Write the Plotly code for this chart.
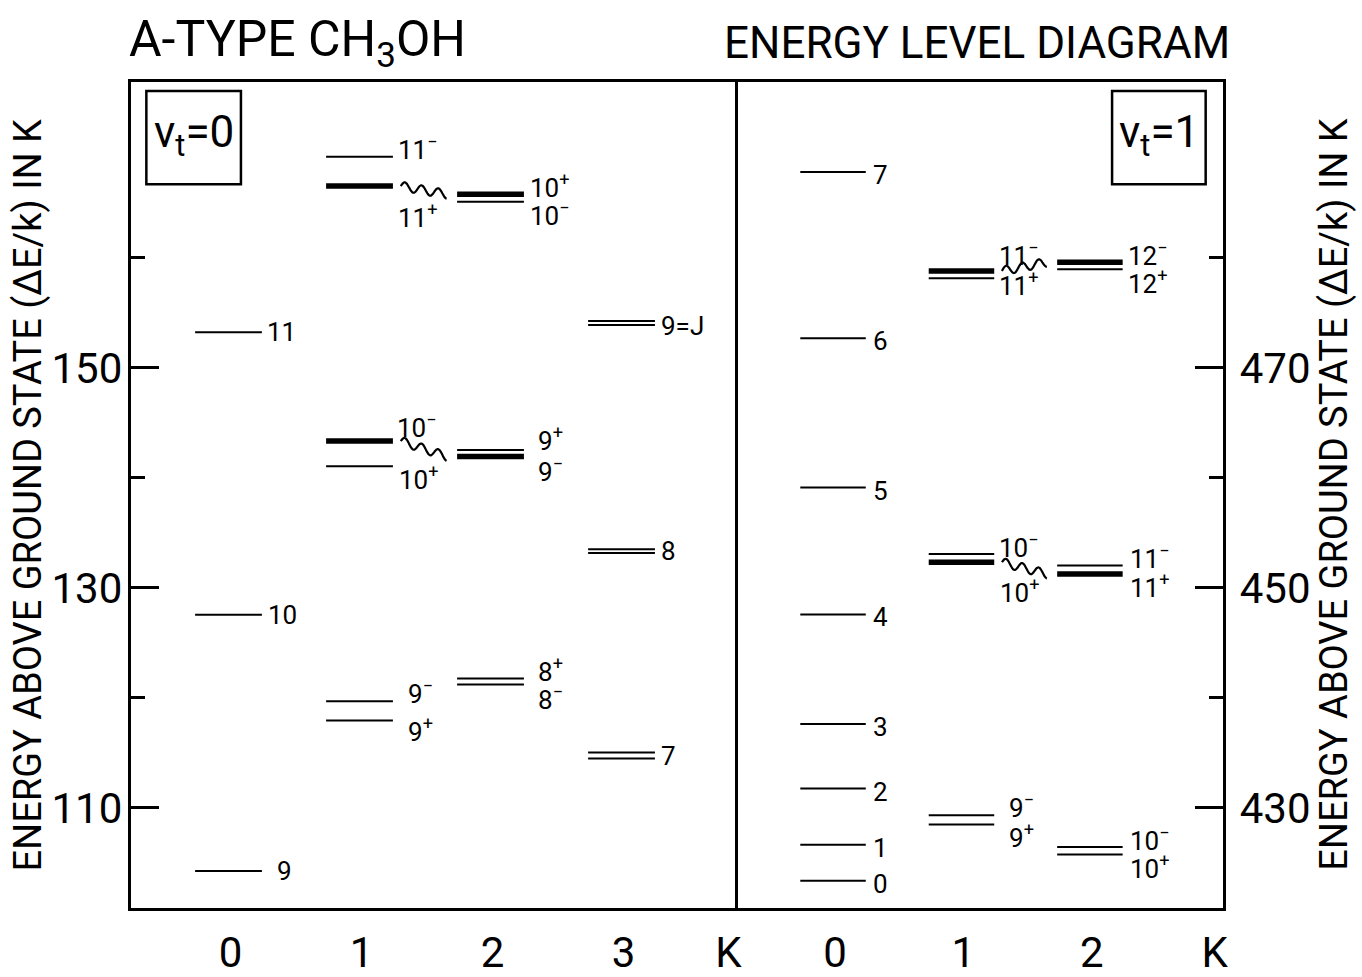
import numpy as np
import plotly.graph_objects as go

W, H = 1362, 977

# ---------------- data (energies above ground state, in K) ----------------
# v_t = 0 panel (left axis)
VT0_K0_LABEL = ["9", "10", "11"]
VT0_K0_E = [104.25, 127.55, 153.23]
VT0_K1_LABEL = ["9+", "9-", "10+", "10-", "11+", "11-"]
VT0_K1_E = [117.93, 119.68, 141.06, 143.35, 166.53, 169.20]
VT0_K2_LABEL = ["8-", "8+", "9-", "9+", "10-", "10+"]
VT0_K2_E = [121.22, 121.76, 141.95, 142.54, 165.10, 165.79]
VT0_K3_LABEL = ["7", "8", "9=J"]
VT0_K3_E_LOW = [114.49, 133.16, 153.91]
VT0_K3_E_HIGH = [115.02, 133.51, 154.26]

# v_t = 1 panel (right axis)
VT1_K0_LABEL = ["0", "1", "2", "3", "4", "5", "6", "7"]
VT1_K0_E = [423.36, 426.65, 431.75, 437.61, 447.58, 459.12, 472.70, 487.80]
VT1_K1_LABEL = ["9+", "9-", "10+", "10-", "11+", "11-"]
VT1_K1_E = [428.49, 429.32, 452.33, 453.07, 478.16, 478.81]
VT1_K2_LABEL = ["10+", "10-", "11+", "11-", "12+", "12-"]
VT1_K2_E = [425.76, 426.44, 451.26, 452.03, 478.96, 479.61]

# interacting level pairs (K=1 level, K=2 level) -> drawn heavy, joined by wavy line
VT0_PAIRS = [("11+", "10+"), ("10-", "9-")]
VT1_PAIRS = [("11-", "12-"), ("10+", "11+")]

LEFT_TICKS = [110, 130, 150]
LEFT_MINOR = [120, 140, 160]
RIGHT_TICKS = [430, 450, 470]
RIGHT_MINOR = [440, 460, 480]
VT0_XTICKS = [0, 1, 2, 3]
VT1_XTICKS = [0, 1, 2]

# ---------------- styling / layout ----------------
FONT = "Roboto, Liberation Sans, sans-serif"
PLOT_L, PLOT_M, PLOT_R = 132, 741, 1228
PLOT_T, PLOT_B = 84, 927
LINE_L, LINE_R = -0.27, 0.24
WAVE_X0, WAVE_X1 = 1.30, 1.65
PX_PER_UNIT = 11.228
THIN, THICK, FRAME = 2.0, 5.5, 2.5
LBL_SIZE = 26

SHIFT = {
    ("vt0", 0, "9"): (13, 0), ("vt0", 0, "10"): (4, 0), ("vt0", 0, "11"): (3, 0),
    ("vt0", 1, "11-"): (3, 9), ("vt0", 1, "11+"): (3, -30),
    ("vt0", 1, "10-"): (2, 15), ("vt0", 1, "10+"): (4, -12),
    ("vt0", 1, "9-"): (13, 9), ("vt0", 1, "9+"): (13, -9),
    ("vt0", 2, "10+"): (4, 8), ("vt0", 2, "10-"): (4, -12),
    ("vt0", 2, "9+"): (12, 11), ("vt0", 2, "9-"): (12, -14),
    ("vt0", 2, "8+"): (12, 8), ("vt0", 2, "8-"): (12, -14),
    ("vt0", 3, "7"): (4, 0), ("vt0", 3, "8"): (4, 0), ("vt0", 3, "9=J"): (4, -3),
    ("vt1", 1, "11-"): (3, 17), ("vt1", 1, "11+"): (3, -6),
    ("vt1", 1, "10-"): (3, 8), ("vt1", 1, "10+"): (4, -29),
    ("vt1", 1, "9-"): (13, 9), ("vt1", 1, "9+"): (13, -12),
    ("vt1", 2, "12-"): (3, 8), ("vt1", 2, "12+"): (3, -13),
    ("vt1", 2, "11-"): (5, 9), ("vt1", 2, "11+"): (5, -12),
    ("vt1", 2, "10-"): (5, 8), ("vt1", 2, "10+"): (5, -13),
}
VT1_K0_SHIFT = (5, -3)


def fmt(lbl):
    if lbl.endswith("+"):
        return lbl[:-1] + "<sup>+</sup>"
    if lbl.endswith("-"):
        return lbl[:-1] + "<sup>\u2212</sup>"
    return lbl


fig = go.Figure()
annotations = []


def add_panel(panel, xa, ya, groups, k3=None, pairs=()):
    thin_x, thin_y, thick_x, thick_y = [], [], [], []
    heavy = set()
    for a, b in pairs:
        heavy.add((1, a))
        heavy.add((2, b))
    for K, labels, energies in groups:
        for lbl, e in zip(labels, energies):
            tx, ty = (thick_x, thick_y) if (K, lbl) in heavy else (thin_x, thin_y)
            tx += [K + LINE_L, K + LINE_R, None]
            ty += [e, e, None]
            dx, dy = SHIFT.get((panel, K, lbl), VT1_K0_SHIFT)
            annotations.append(dict(
                x=K + LINE_R, y=e, xref=xa, yref=ya, text=fmt(lbl), showarrow=False,
                xanchor="left", yanchor="middle", xshift=dx, yshift=dy,
                font=dict(family=FONT, size=LBL_SIZE, color="black")))
    if k3 is not None:
        K, labels, lo, hi = k3
        for lbl, a, b in zip(labels, lo, hi):
            for e in (a, b):
                thin_x += [K + LINE_L, K + LINE_R, None]
                thin_y += [e, e, None]
            dx, dy = SHIFT[(panel, K, lbl)]
            annotations.append(dict(
                x=K + LINE_R, y=(a + b) / 2, xref=xa, yref=ya, text=fmt(lbl),
                showarrow=False, xanchor="left", yanchor="middle", xshift=dx, yshift=dy,
                font=dict(family=FONT, size=LBL_SIZE, color="black")))
    # wavy connectors between interacting levels
    wx, wy = [], []
    e1 = dict(zip(groups[1][1], groups[1][2]))
    e2 = dict(zip(groups[2][1], groups[2][2]))
    amp = 4.5 / PX_PER_UNIT
    t = np.linspace(0, 1, 90)
    for a, b in pairs:
        y0, y1 = e1[a], e2[b]
        wx += list(WAVE_X0 + (WAVE_X1 - WAVE_X0) * t) + [None]
        wy += list(y0 + (y1 - y0) * t + amp * np.sin(2 * np.pi * 2.75 * t)) + [None]
    xr = "x" if xa == "x" else "x2"
    yr = "y" if ya == "y" else "y2"
    fig.add_trace(go.Scatter(x=thin_x, y=thin_y, mode="lines", xaxis=xr, yaxis=yr,
                             line=dict(color="black", width=THIN), hoverinfo="skip"))
    fig.add_trace(go.Scatter(x=thick_x, y=thick_y, mode="lines", xaxis=xr, yaxis=yr,
                             line=dict(color="black", width=THICK), hoverinfo="skip"))
    fig.add_trace(go.Scatter(x=wx, y=wy, mode="lines", xaxis=xr, yaxis=yr,
                             line=dict(color="black", width=2.2, shape="spline"),
                             hoverinfo="skip"))


add_panel("vt0", "x", "y",
          [(0, VT0_K0_LABEL, VT0_K0_E), (1, VT0_K1_LABEL, VT0_K1_E),
           (2, VT0_K2_LABEL, VT0_K2_E)],
          k3=(3, VT0_K3_LABEL, VT0_K3_E_LOW, VT0_K3_E_HIGH), pairs=VT0_PAIRS)
add_panel("vt1", "x2", "y2",
          [(0, VT1_K0_LABEL, VT1_K0_E), (1, VT1_K1_LABEL, VT1_K1_E),
           (2, VT1_K2_LABEL, VT1_K2_E)],
          pairs=VT1_PAIRS)


def px(xp):
    return xp / W


def py(yp):
    return 1 - yp / H


def yval(yp, ref_v=160.0, ref_p=263.3):
    return ref_v - (yp - ref_p) / PX_PER_UNIT


y_lo, y_hi = yval(PLOT_B), yval(PLOT_T)
OFFSET = 320.0

axis_common = dict(showline=True, linecolor="black", linewidth=FRAME,
                   showgrid=False, zeroline=False, fixedrange=True)
tickfont = dict(family=FONT, size=42, color="black")

fig.update_layout(
    width=W, height=H, margin=dict(l=0, r=0, t=0, b=0),
    paper_bgcolor="white", plot_bgcolor="white", showlegend=False,
    xaxis=dict(domain=[px(PLOT_L), px(PLOT_M)], range=[-0.756, 3.872],
               tickmode="array", tickvals=VT0_XTICKS + [3.8],
               ticktext=[str(k) for k in VT0_XTICKS] + ["K"],
               ticks="", tickfont=tickfont, ticklabelstandoff=6, anchor="y",
               mirror=True, **axis_common),
    yaxis=dict(domain=[py(PLOT_B), py(PLOT_T)], range=[y_lo, y_hi], anchor="x",
               side="left", tickmode="array", tickvals=LEFT_TICKS,
               ticks="inside", ticklen=28, tickwidth=FRAME, tickcolor="black",
               minor=dict(tickmode="array", tickvals=LEFT_MINOR, ticks="inside",
                          ticklen=14, tickwidth=FRAME, tickcolor="black"),
               tickfont=tickfont, ticklabelstandoff=-2, mirror=False, **axis_common),
    xaxis2=dict(domain=[px(PLOT_M), px(PLOT_R)], range=[-0.757, 3.018],
                tickmode="array", tickvals=VT1_XTICKS + [2.957],
                ticktext=[str(k) for k in VT1_XTICKS] + ["K"],
                ticks="", tickfont=tickfont, ticklabelstandoff=6, anchor="y2",
                mirror=True, **axis_common),
    yaxis2=dict(domain=[py(PLOT_B), py(PLOT_T)], range=[y_lo + OFFSET, y_hi + OFFSET],
                anchor="x2", side="right", tickmode="array", tickvals=RIGHT_TICKS,
                ticks="inside", ticklen=28, tickwidth=FRAME, tickcolor="black",
                minor=dict(tickmode="array", tickvals=RIGHT_MINOR, ticks="inside",
                           ticklen=14, tickwidth=FRAME, tickcolor="black"),
                tickfont=tickfont, ticklabelstandoff=6, mirror=True, **axis_common),
)

# v_t boxes
for (x0, x1, txt) in [(147, 242, "v<sub>t</sub>=0"), (1117, 1211, "v<sub>t</sub>=1")]:
    fig.add_shape(type="rect", xref="paper", yref="paper",
                  x0=px(x0), x1=px(x1), y0=py(188), y1=py(93),
                  line=dict(color="black", width=FRAME))
    annotations.append(dict(x=px((x0 + x1) / 2), y=py(138), xref="paper", yref="paper",
                            text=txt, showarrow=False, xanchor="center", yanchor="middle",
                            font=dict(family=FONT, size=44, color="black")))

# titles
annotations.append(dict(x=px(128), y=py(44), xref="paper", yref="paper",
                        text="A-TYPE CH<sub>3</sub>OH", showarrow=False,
                        xanchor="left", yanchor="middle",
                        font=dict(family=FONT, size=50, color="black")))
annotations.append(dict(x=px(1237), y=py(44), xref="paper", yref="paper",
                        text="ENERGY LEVEL DIAGRAM", showarrow=False,
                        xanchor="right", yanchor="middle",
                        font=dict(family=FONT, size=44, color="black")))
ytitle = "ENERGY ABOVE GROUND STATE (\u0394E/k) IN K"
for xc in (28, 1340):
    annotations.append(dict(x=px(xc), y=py(505), xref="paper", yref="paper",
                            text=ytitle, showarrow=False, textangle=-90,
                            xanchor="center", yanchor="middle",
                            font=dict(family=FONT, size=38, color="black")))

fig.update_layout(annotations=annotations)
fig.write_html("out.html")
